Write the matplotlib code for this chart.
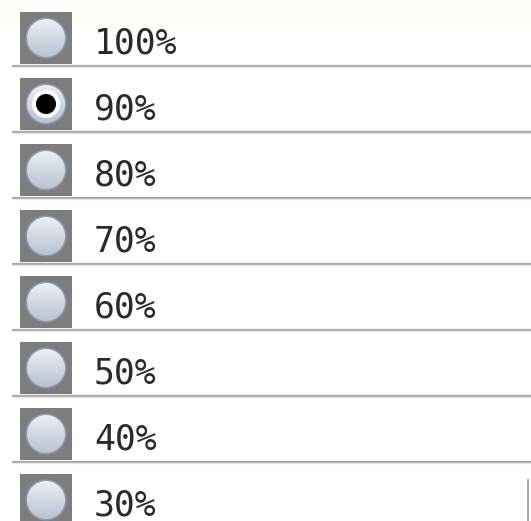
import matplotlib.pyplot as plt
import numpy as np
from matplotlib.patches import Rectangle, Circle

labels = ["100%", "90%", "80%", "70%", "60%", "50%", "40%", "30%"]
selected = "90%"

W, H = 531, 521
row_h = 66

fig = plt.figure(figsize=(W / 100, H / 100), dpi=100)
ax = fig.add_axes([0, 0, 1, 1])
ax.set_xlim(0, W)
ax.set_ylim(H, 0)
ax.axis("off")

# faint cream strip at the top
ax.add_patch(Rectangle((0, 4), W, 21, color="#fffdf6", lw=0))

# vertical gradient for the radio buttons
grad = np.linspace(0, 1, 64).reshape(-1, 1)
top = np.array([0.93, 0.94, 0.96])
bot = np.array([0.72, 0.76, 0.82])
grad_img = top + (bot - top) * grad[..., None]

for i, lab in enumerate(labels):
    y0 = 12 + row_h * i
    ax.add_patch(Rectangle((20, y0), 52, 52, facecolor="#7d7d7d", edgecolor="none", zorder=1))
    cx, cy = 46, y0 + 26
    edge = Circle((cx, cy), 20.5, facecolor="#8c9ab0", edgecolor="none", zorder=2)
    ax.add_patch(edge)
    inner = Circle((cx, cy), 19, facecolor="none", edgecolor="none", zorder=3)
    ax.add_patch(inner)
    im = ax.imshow(grad_img, extent=(cx - 20, cx + 20, cy + 20, cy - 20), zorder=3,
                   aspect="auto", interpolation="bilinear")
    im.set_clip_path(inner)
    if lab == selected:
        ax.add_patch(Circle((cx, cy), 14, facecolor="#ffffff", edgecolor="none", zorder=4))
        ax.add_patch(Circle((cx, cy), 10, facecolor="#000000", edgecolor="none", zorder=5))
    ax.text(94, y0 + 42, lab, fontsize=25, family="DejaVu Sans Mono",
            color="#2a2a2a", va="baseline", ha="left", zorder=6)
    sy = 65.5 + row_h * i
    if sy < H:
        ax.plot([12, W], [sy, sy], color="#a9a9a9", lw=1.6, zorder=6, solid_capstyle="butt")
        ax.plot([12, W], [sy + 1.8, sy + 1.8], color="#e6e6e6", lw=1, zorder=6, solid_capstyle="butt")

# scrollbar edge bottom right
ax.plot([527.5, 527.5], [480, H], color="#9a9a9a", lw=1.2)

fig.savefig("out.png", dpi=100)
